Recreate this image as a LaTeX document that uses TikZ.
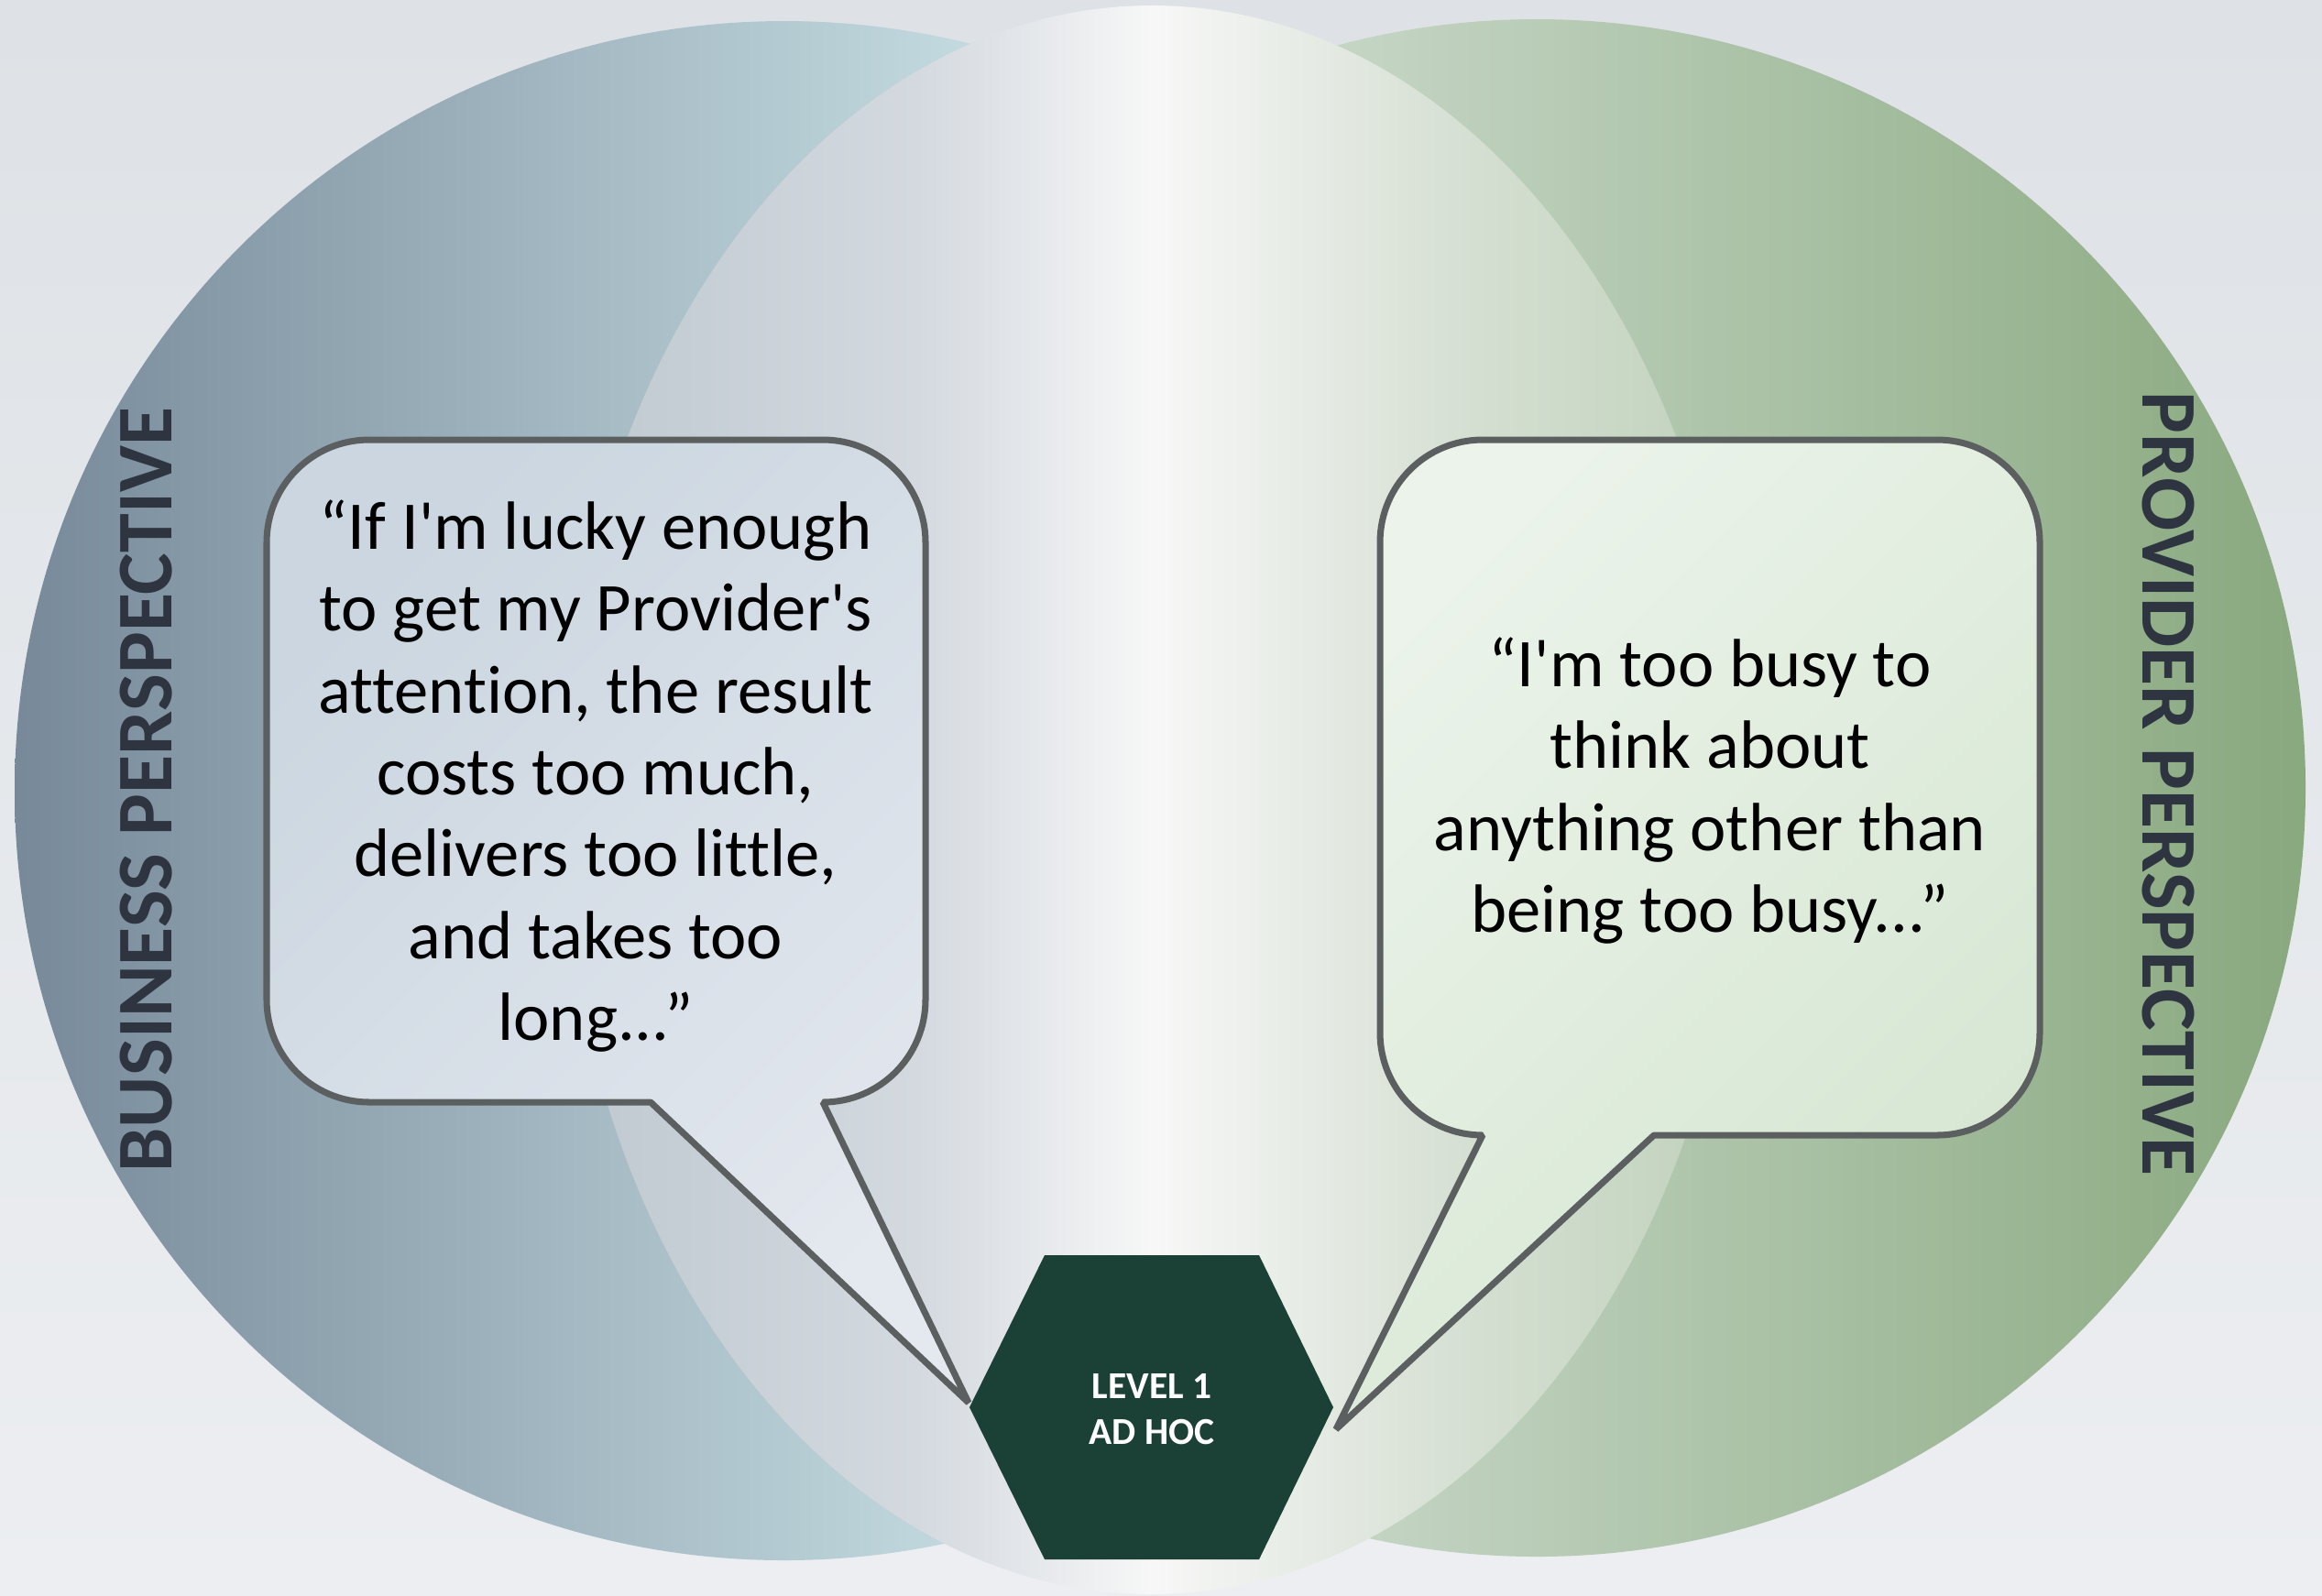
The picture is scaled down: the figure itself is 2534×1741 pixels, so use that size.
\documentclass[tikz,border=0pt]{standalone}
\usepackage{fontspec}
\setmainfont{Carlito}[Ligatures={TeXOff,NoCommon}]

\definecolor{bgtop}{HTML}{DEE2E6}
\definecolor{bgbot}{HTML}{ECEEF1}
\definecolor{bizA}{HTML}{778999}
\definecolor{bizB}{HTML}{C6DDE2}
\definecolor{provA}{HTML}{C6D6C6}
\definecolor{provB}{HTML}{88A87E}
\definecolor{midA}{HTML}{BFC8D0}
\definecolor{midB}{HTML}{D3D9DF}
\definecolor{midC}{HTML}{F7F7F7}
\definecolor{midD}{HTML}{D5DFD2}
\definecolor{midE}{HTML}{C0D1BB}
\definecolor{bubbleline}{HTML}{5B5F60}
\definecolor{bubLA}{HTML}{CBD6E0}
\definecolor{bubLB}{HTML}{E4E8EF}
\definecolor{bubRA}{HTML}{EBF3EA}
\definecolor{bubRB}{HTML}{D5E6D1}
\definecolor{hexgreen}{HTML}{1B4035}
\definecolor{sidetext}{HTML}{2F3540}

\begin{document}
\begin{tikzpicture}[x=0.01cm, y=-0.01cm,
  bubble/.style={draw=bubbleline, line width=2pt, line join=bevel},
  quote/.style={align=center, inner sep=0pt, text=black,
    font=\fontsize{21.2}{25.4}\selectfont},
  hexlabel/.style={align=center, inner sep=0pt, text=white,
    font=\bfseries\fontsize{11.8}{14.2}\selectfont},
  sidetitle/.style={inner sep=0pt, text=sidetext,
    font=\bfseries\fontsize{24.5}{29}\selectfont}]

\useasboundingbox (0,0) rectangle (2534,1741);

% backdrop
\shade[top color=bgtop, bottom color=bgbot] (0,0) rectangle (2534,1741);

% business circle
\begin{scope}
  \clip (856,863) circle[radius=840];
  \shade[left color=bizA, right color=bizB] (10,0) rectangle (1100,1741);
  \fill[bizB] (1099,0) rectangle (1710,1741);
\end{scope}

% provider circle
\begin{scope}
  \clip (1677,860) circle[radius=839];
  \fill[provA] (820,0) rectangle (1451,1741);
  \shade[left color=provA, right color=provB] (1450,0) rectangle (2525,1741);
\end{scope}

% shared middle region
\begin{scope}
  \clip (1257,873) ellipse[x radius=643, y radius=867];
  \shade[left color=midA, right color=midB] (610,0) rectangle (1001,1741);
  \shade[left color=midB, right color=midC] (1000,0) rectangle (1258,1741);
  \shade[left color=midC, right color=midD] (1257,0) rectangle (1601,1741);
  \shade[left color=midD, right color=midE] (1600,0) rectangle (1905,1741);
\end{scope}

% business speech bubble
\draw[bubble, top color=bubLA, bottom color=bubLB, shading angle=45]
  (403,480) -- (898,480) .. controls (960,480) and (1010,530) .. (1010,592)
  -- (1010,1091) .. controls (1010,1153) and (960,1203) .. (898,1203)
  -- (1057,1531) -- (710,1203) -- (403,1203)
  .. controls (341,1203) and (291,1153) .. (291,1091)
  -- (291,592) .. controls (291,530) and (341,480) .. (403,480) -- cycle;

% provider speech bubble
\draw[bubble, top color=bubRA, bottom color=bubRB, shading angle=45]
  (1618,480) -- (2114,480) .. controls (2176,480) and (2226,530) .. (2226,592)
  -- (2226,1127) .. controls (2226,1189) and (2176,1239) .. (2114,1239)
  -- (1805,1239) -- (1458,1560) -- (1618,1239)
  .. controls (1556,1239) and (1506,1189) .. (1506,1127)
  -- (1506,592) .. controls (1506,530) and (1556,480) .. (1618,480) -- cycle;

\node[quote] (bizquote) at (650,847)
  {“If I'm lucky enough\\to get my Provider's\\attention, the result\\costs too much,\\delivers too little,\\and takes too\\long...”};
\node[quote] (provquote) at (1866,863)
  {“I'm too busy to\\think about\\anything other than\\being too busy...”};

% level hexagon
\fill[hexgreen] (1058,1536) -- (1140,1370) -- (1374,1370) -- (1455,1536)
  -- (1374,1702) -- (1140,1702) -- cycle;
\node[hexlabel] (level) at (1257,1538) {LEVEL 1\\AD HOC};

% side titles
\node[sidetitle, rotate=90] (biztitle) at (160,862) {BUSINESS PERSPECTIVE};
\node[sidetitle, rotate=-90] (provtitle) at (2366,856) {PROVIDER PERSPECTIVE};

\end{tikzpicture}
\end{document}
